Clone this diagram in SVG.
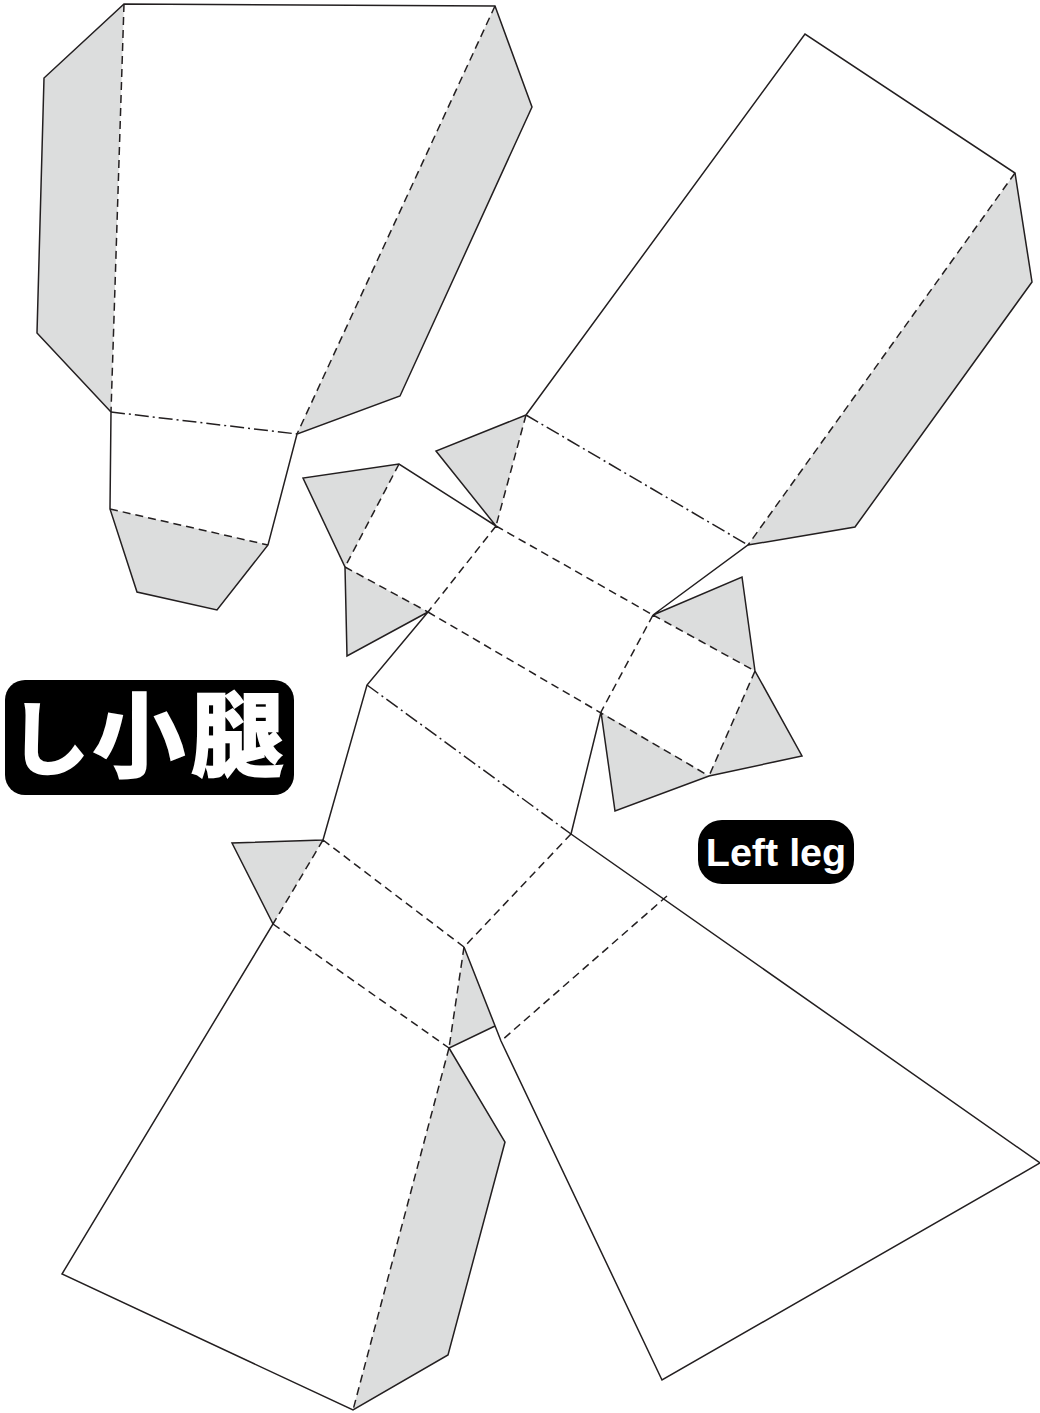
<svg xmlns="http://www.w3.org/2000/svg" width="1040" height="1413" viewBox="0 0 1040 1413">
<style>
.flap{fill:#dcdddd;stroke:none}
.cut{fill:none;stroke:#231f20;stroke-width:1.5;stroke-linejoin:miter}
.fold{fill:none;stroke:#231f20;stroke-width:1.5;stroke-dasharray:8 5}
.mount{fill:none;stroke:#231f20;stroke-width:1.5;stroke-dasharray:14 4 2 4}
.lab{fill:#000}
.t{fill:#fff;font-weight:700}
.zh{stroke:#fff;stroke-width:2.5;font-family:'Noto Sans CJK JP',sans-serif}
</style>
<rect width="1040" height="1413" fill="#fff"/>
<g id="flaps">
<polygon class="flap" points="124,4 44,78 37,333 111,412"/>
<polygon class="flap" points="495,6 532,107 400,396 297,434"/>
<polygon class="flap" points="110,509 137,592 217,610 268,545"/>
<polygon class="flap" points="1015,173 1032,282 855,527 748,545"/>
<polygon class="flap" points="526,415 436,451 496,526"/>
<polygon class="flap" points="399,464 303,478 345,567"/>
<polygon class="flap" points="345,567 347,656 428,612"/>
<polygon class="flap" points="653,615 742,577 755,671"/>
<polygon class="flap" points="755,671 802,756 709,776"/>
<polygon class="flap" points="601,712 615,811 709,776"/>
<polygon class="flap" points="323,840 232,843 273,924"/>
<polygon class="flap" points="464,947 495,1026 449,1048"/>
<polygon class="flap" points="449,1048 505,1142 448,1355 353,1410"/>
</g>
<g id="connectors">
<path class="cut" d="M111,412L37,333L44,78L124,4L495,6L532,107L400,396L297,434L268,545L217,610L137,592L110,509L111,412"/>
<path class="cut" d="M526,415L805,34L1015,173L1032,282L855,527L748,545L653,615L742,577L755,671L802,756L709,776L615,811L601,712L571,834L1040,1163L662,1380L501,1041L464,947M495,1026L449,1048L505,1142L448,1355L353,1410L62,1274L273,924L232,843L323,840L367,685L428,612L347,656L345,567L303,478L399,464L496,526L436,451L526,415"/>
<path class="fold" d="M124,4L111,412M495,6L297,434M110,509L268,545M1015,173L748,545M526,415L496,526M399,464L345,567M345,567L428,612M496,526L653,615M428,612L709,776M496,526L428,612M653,615L601,712M653,615L755,671M755,671L709,776M323,840L273,924M323,840L464,947M273,924L449,1048M571,834L464,947M464,947L449,1048M667,896L501,1041M449,1048L353,1410"/>
<path class="mount" d="M111,412L297,434M526,415L748,545M367,685L571,834"/>
</g>
<g id="label-zh">
<rect class="lab" x="5" y="680" width="289" height="115" rx="20"/>
<text class="t zh" x="9" y="768" font-size="80">し</text>
<text class="t zh" x="93" y="770" font-size="92">小</text>
<text class="t zh" x="191" y="769" font-size="92">腿</text>
</g>
<g id="label-en">
<rect class="lab" x="698" y="820" width="156" height="64" rx="24"/>
<text class="t" x="776" y="866" font-size="39.5" text-anchor="middle" font-family="'Liberation Sans',Arial,sans-serif">Left leg</text>
</g>
</svg>
